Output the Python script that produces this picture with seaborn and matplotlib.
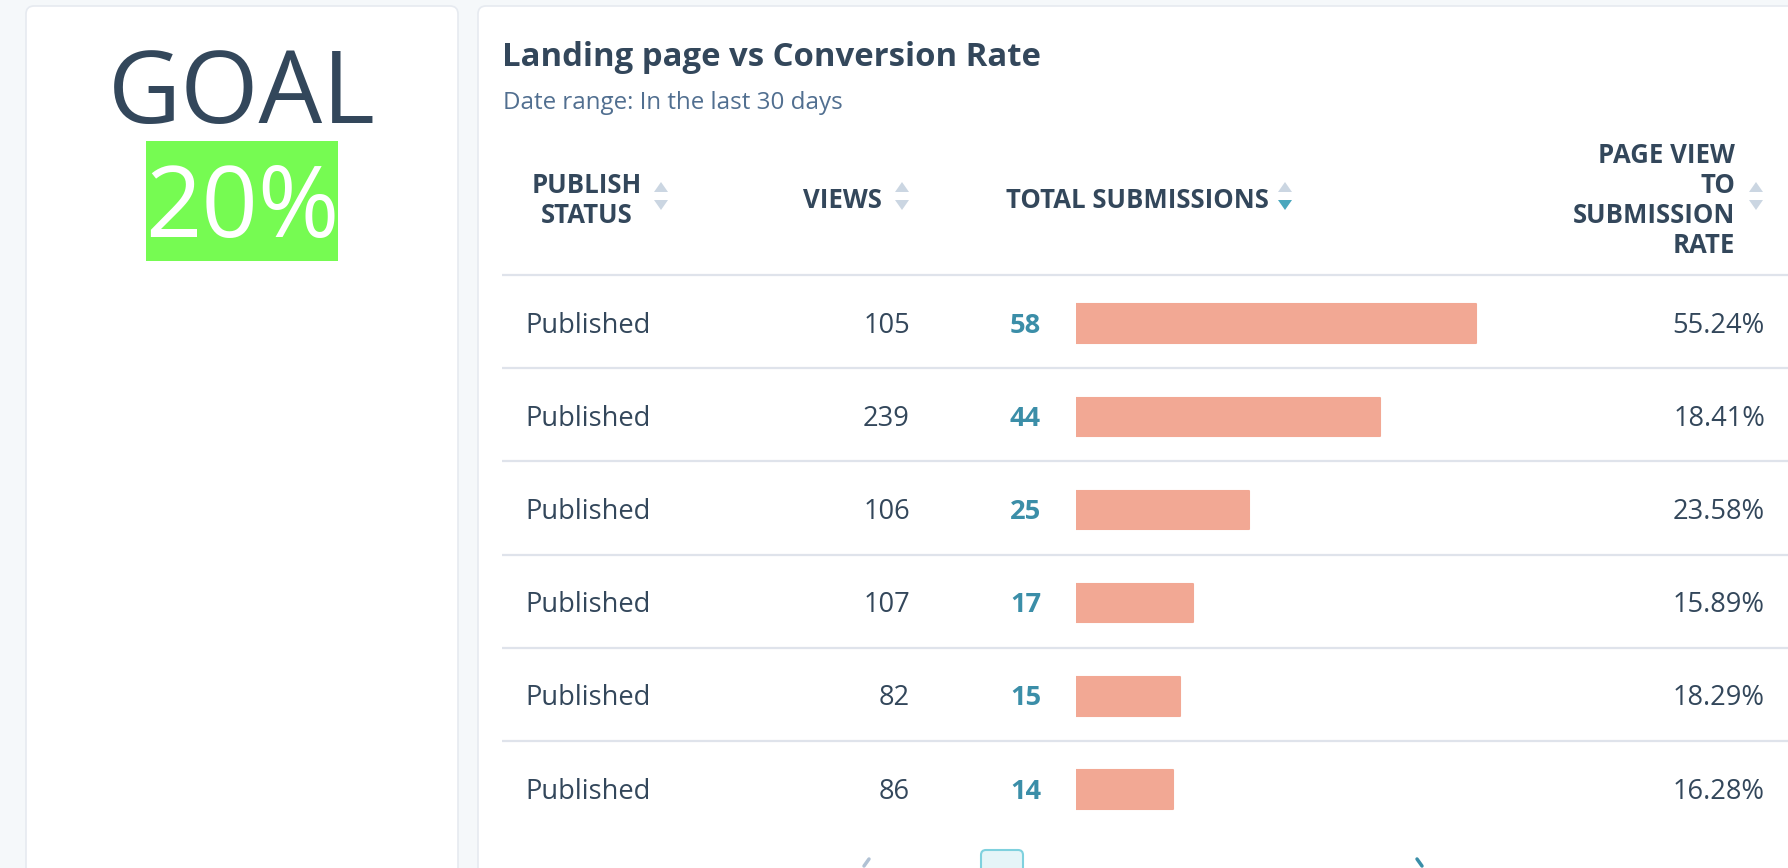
import numpy as np
import pandas as pd
import matplotlib
matplotlib.use("Agg")
import matplotlib.pyplot as plt
from matplotlib.patches import FancyBboxPatch, Rectangle, Polygon
from matplotlib.colors import LinearSegmentedColormap
import seaborn as sns

# ---------------- data ----------------
goal_label = "GOAL"
goal_value = "20%"
title = "Landing page vs Conversion Rate"
subtitle = "Date range: In the last 30 days"
header_status = ["PUBLISH", "STATUS"]
header_views = "VIEWS"
header_subs = "TOTAL SUBMISSIONS"
header_rate = ["PAGE VIEW", "TO", "SUBMISSION", "RATE"]
status = ["Published", "Published", "Published", "Published", "Published", "Published"]
views = [105, 239, 106, 107, 82, 86]
submissions = [58, 44, 25, 17, 15, 14]
rates = ["55.24%", "18.41%", "23.58%", "15.89%", "18.29%", "16.28%"]

# ---------------- style ----------------
sns.set_theme(style="white")
plt.rcParams["font.family"] = ["Open Sans", "DejaVu Sans"]

W, H = 1788, 868
DARK = "#33475b"
SUB = "#516f90"
TEAL = "#3b8ea8"
BAR = "#f2a894"
LINE = "#dfe3eb"
PAGE_BG = "#f5f8fa"
ARROW = "#cbd6e2"
ARROW_ON = "#4aa7bd"

fig = plt.figure(figsize=(W / 100, H / 100), dpi=100, facecolor=PAGE_BG)
bg = fig.add_axes([0, 0, 1, 1], zorder=0)
bg.set_xlim(0, W)
bg.set_ylim(H, 0)
bg.axis("off")
bg.set_facecolor(PAGE_BG)

# cards
for x0, x1 in [(26, 458), (478, W + 30)]:
    bg.add_patch(FancyBboxPatch((x0, 6), x1 - x0, H + 30,
                                boxstyle="round,pad=0,rounding_size=8",
                                facecolor="white", edgecolor="#e6eaf0", lw=1.2))

# goal panel
bg.text(242, 123, goal_label, ha="center", va="baseline", fontsize=72.5,
        color=DARK, fontweight="normal")
bg.add_patch(Rectangle((146, 141), 192, 120, facecolor="#76fb52", edgecolor="none"))
bg.text(242, 237, goal_value, ha="center", va="baseline", fontsize=71,
        color="white", fontweight="normal")

# title / subtitle
bg.text(502, 66, title, ha="left", va="baseline", fontsize=23.7, color=DARK,
        fontweight="bold")
bg.text(503, 109, subtitle, ha="left", va="baseline", fontsize=17.4, color=SUB)

# scroll shadows
grad = np.linspace(0, 1, 64).reshape(1, -1)
cm = LinearSegmentedColormap.from_list("sh", ["#eef1f6", "#ffffff"])
bg.imshow(grad, cmap=cm, extent=(502, 532, 833, 123), aspect="auto", zorder=0.5)
bg.imshow(grad[:, ::-1], cmap=cm, extent=(1762, 1788, 833, 123), aspect="auto", zorder=0.5)

# header texts
HFS = 18.5
bg.text(587, 193, header_status[0], ha="center", va="baseline", fontsize=HFS,
        color=DARK, fontweight="bold")
bg.text(587, 223, header_status[1], ha="center", va="baseline", fontsize=HFS,
        color=DARK, fontweight="bold")
bg.text(882, 208, header_views, ha="right", va="baseline", fontsize=HFS,
        color=DARK, fontweight="bold")
bg.text(1006, 208, header_subs, ha="left", va="baseline", fontsize=HFS,
        color=DARK, fontweight="bold")
for i, line in enumerate(header_rate):
    bg.text(1735, 163 + 30 * i, line, ha="right", va="baseline", fontsize=HFS,
            color=DARK, fontweight="bold")


def sort_arrows(xc, down_color=ARROW):
    bg.add_patch(Polygon([(xc - 7, 192), (xc + 7, 192), (xc, 182)], closed=True,
                         facecolor=ARROW, edgecolor="none"))
    bg.add_patch(Polygon([(xc - 7, 200), (xc + 7, 200), (xc, 210)], closed=True,
                         facecolor=down_color, edgecolor="none"))


sort_arrows(661)
sort_arrows(902)
sort_arrows(1285, ARROW_ON)
sort_arrows(1756)

# row grid
TOP, ROWH = 275, 93.2
n = len(views)
for i in range(n):
    y = TOP + ROWH * i
    bg.plot([502, W], [y, y], color=LINE, lw=1.6, solid_capstyle="butt")

# row texts
BFS = 19.6
for i in range(n):
    yb = TOP + ROWH * (i + 0.5) + 11
    bg.text(525, yb, status[i], ha="left", va="baseline", fontsize=BFS, color=DARK)
    bg.text(910, yb, f"{views[i]}", ha="right", va="baseline", fontsize=BFS, color=DARK)
    bg.text(1041, yb, f"{submissions[i]}", ha="right", va="baseline", fontsize=BFS,
            color=TEAL, fontweight="bold")
    bg.text(1765, yb, rates[i], ha="right", va="baseline", fontsize=BFS, color=DARK)

# pagination (partially visible)
bg.add_patch(FancyBboxPatch((981, 850), 42, 40, boxstyle="round,pad=0,rounding_size=5",
                            facecolor="#e5f5f8", edgecolor="#7fd1de", lw=1.5))
bg.plot([869, 864], [859, 866], color="#b0c1d4", lw=2.5, solid_capstyle="round")
bg.plot([1417, 1422], [859, 866], color=TEAL, lw=2.5, solid_capstyle="round")

# ---------------- bars (seaborn) ----------------
PX_PER_UNIT = 6.9
XMAX = 60
BAR_LEFT = 1076
bar_top = TOP + 2
bar_bottom = bar_top + ROWH * n
ax = fig.add_axes([BAR_LEFT / W, 1 - bar_bottom / H, PX_PER_UNIT * XMAX / W, ROWH * n / H],
                  zorder=2)
df = pd.DataFrame({"row": [str(i) for i in range(n)], "submissions": submissions})
sns.barplot(data=df, x="submissions", y="row", orient="h", color=BAR, width=0.41,
            saturation=1, ax=ax)
for p in ax.patches:
    p.set_edgecolor(BAR)
    p.set_linewidth(1.5)
    p.set_joinstyle("round")
ax.set_xlim(0, XMAX)
ax.set_ylim(n - 0.5, -0.5)
ax.set_facecolor("none")
ax.axis("off")

fig.savefig("out.png", dpi=100, facecolor=PAGE_BG)
